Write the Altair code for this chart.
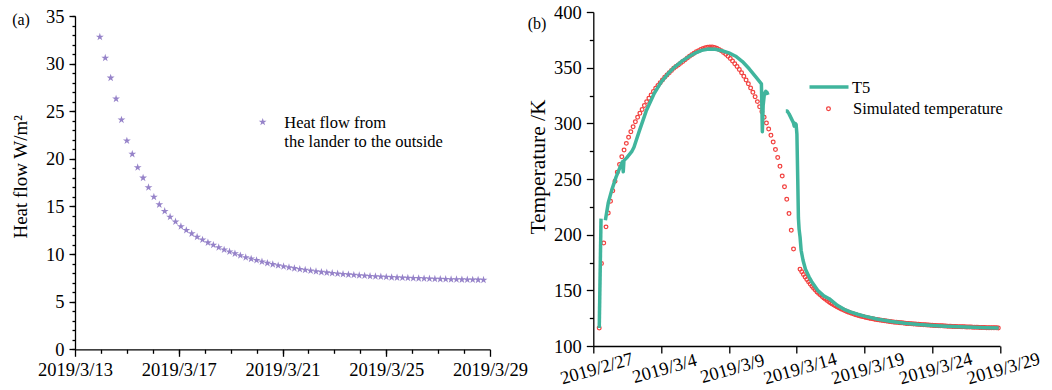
import altair as alt
import numpy as np
import pandas as pd

FONT = "Liberation Serif"
STAR_COLOR = "#9683c9"
T5_COLOR = "#40b59d"
SIM_COLOR = "#f2413f"
STAR_PATH = ("M0,-1L0.2245,-0.309L0.951,-0.309L0.363,0.118L0.588,0.809L0,0.382"
             "L-0.588,0.809L-0.363,0.118L-0.951,-0.309L-0.2245,-0.309Z")

# ---------------- panel (a) data ----------------
heat_flow_start = "2019-03-13 23:00"
heat_flow_step = "5h"
heat_flow = [
    32.8, 30.6, 28.5, 26.3, 24.1, 21.9, 20.5, 19.1, 18.0, 17.0,
    16.0, 15.2, 14.5, 13.9, 13.4, 12.9, 12.5, 12.15, 11.8, 11.5,
    11.2, 10.95, 10.7, 10.45, 10.25, 10.05, 9.85, 9.65, 9.5, 9.35,
    9.2, 9.05, 8.92, 8.8, 8.7, 8.6, 8.5, 8.41, 8.33, 8.25,
    8.18, 8.11, 8.05, 7.99, 7.94, 7.89, 7.84, 7.8, 7.76, 7.72,
    7.68, 7.65, 7.62, 7.59, 7.56, 7.53, 7.51, 7.49, 7.47, 7.45,
    7.43, 7.41, 7.39, 7.37, 7.36, 7.34, 7.33, 7.32, 7.31, 7.3,
    7.29, 7.28,
]
a_x_major_days = [13, 17, 21, 25, 29]          # March
a_x_minor_days = list(range(14, 29))
a_y_major = [0, 5, 10, 15, 20, 25, 30, 35]
a_y_minor = list(range(0, 36))

# ---------------- panel (b) data ----------------
sim_a_start = "2019-02-27 10:30"
sim_a_step = "4h"
sim_a = [
    116.2, 174.0, 192.5, 207.0, 219.5, 230.0, 239.5, 248.0, 256.0, 263.0,
    270.0, 276.0, 282.0, 287.5, 292.5, 297.0, 301.5, 305.5, 309.0, 312.5,
    316.0, 319.5, 322.5, 325.5, 328.5, 331.5, 334.0, 336.5, 339.0, 341.5,
    343.5, 345.5, 347.5, 349.5, 351.0, 352.5, 354.0, 355.5, 357.0, 358.7,
    360.2, 361.7, 363.0, 364.2, 365.3, 366.3, 367.2, 367.9, 368.4, 368.6,
    368.5, 368.1, 367.4, 366.4, 365.1, 363.6, 362.0, 360.2, 358.2, 356.0,
    353.6, 351.0, 348.3, 345.4, 342.3, 339.0, 335.5, 331.8, 327.9, 323.8,
    319.5, 315.0, 310.3, 305.4, 300.3, 295.0, 289.3, 283.2, 276.6, 269.4,
    261.5, 252.8, 243.0, 231.8, 219.0, 204.0, 187.2,
]
sim_b_start = "2019-03-14 06:00"
sim_b_step = "3h"
sim_b = [
    169.0, 166.6, 164.2, 161.9, 159.7, 157.6, 155.6, 153.7,
    151.9, 150.2, 148.6, 147.1, 145.7, 144.4, 143.1, 141.9,
    140.8, 139.7, 138.7, 137.7, 136.8, 135.9, 135.1, 134.3,
    133.5, 132.8, 132.1, 131.4, 130.8, 130.2, 129.6, 129.1,
    128.6, 128.1, 127.6, 127.2, 126.8, 126.4, 126.0, 125.6,
    125.3, 125.0, 124.7, 124.4, 124.1, 123.8, 123.6, 123.3,
    123.1, 122.9, 122.6, 122.4, 122.2, 122.0, 121.8, 121.6,
    121.4, 121.3, 121.1, 120.9, 120.8, 120.6, 120.5, 120.3,
    120.2, 120.1, 119.9, 119.8, 119.7, 119.6, 119.5, 119.3,
    119.2, 119.1, 119.0, 118.9, 118.8, 118.7, 118.6, 118.5,
    118.4, 118.3, 118.2, 118.2, 118.1, 118.0, 117.9, 117.8,
    117.8, 117.7, 117.6, 117.6, 117.5, 117.4, 117.4, 117.3,
    117.3, 117.2, 117.1, 117.1, 117.0, 117.0, 116.9, 116.9,
    116.8, 116.8, 116.7, 116.7, 116.6, 116.6, 116.5, 116.5,
    116.5, 116.4, 116.4, 116.3, 116.3, 116.2,
]
# T5 measured curve: days after 2019-02-27 00:00 and temperature, three pieces
t5_origin = "2019-02-27 00:00"
t5_seg1_days = [0.44, 0.57]
t5_seg1_temp = [116.2, 214.4]
t5_seg2_days = [0.89, 1.11, 1.36, 1.67, 2.02, 2.15, 2.21, 2.26, 2.46, 2.83,
                3.0, 3.39, 3.9, 4.5, 5.0, 5.5, 6.0, 6.5, 7.0, 7.5,
                8.0, 8.5, 9.0, 9.5, 10.0, 10.5, 11.0, 11.5, 12.0, 12.4,
                12.47, 12.53, 12.62, 12.72, 12.82, 12.88]
t5_seg2_temp = [213, 229, 240, 251.5, 262, 265.5, 256.5, 266.5, 269, 274.5,
                278.5, 293, 311, 327, 337, 344.5, 350.5, 355.5, 359.5, 363,
                365.5, 366.8, 366.5, 365.2, 363.3, 360.3, 355.5, 349, 341.5, 335.5,
                292.5, 316, 326.5, 328.7, 327.6, 325.5]
t5_seg3_days = [14.2, 14.3, 14.44, 14.62, 14.76, 14.82, 14.88, 14.96, 15.02, 15.08,
                15.13, 15.18, 15.25, 15.33, 15.47, 15.65, 15.92, 16.1, 16.55, 17.0,
                17.4, 18.0, 18.5, 19.0, 19.5, 20.0, 21.0, 22.0, 23.0, 24.0,
                25.0, 26.0, 27.0, 28.0, 29.0, 29.9]
t5_seg3_temp = [311, 311, 308.5, 304, 300.5, 297.5, 300, 299, 290, 250,
                215, 205, 198, 186, 177, 169, 162, 158, 150, 145,
                142.5, 136.5, 133, 130.5, 128.5, 126.8, 124, 122, 120.5, 119.3,
                118.5, 117.8, 117.3, 116.9, 116.5, 116.2]
b_x_ticks = [(2, 27), (3, 4), (3, 9), (3, 14), (3, 19), (3, 24), (3, 29)]
b_y_major = [100, 150, 200, 250, 300, 350, 400]
b_y_minor = [125, 175, 225, 275, 325, 375]

FMT = "%Y-%m-%dT%H:%M:%S"


def dt(m, d):
    return alt.DateTime(year=2019, month=m, date=d)


hf_df = pd.DataFrame({
    "t": pd.date_range(heat_flow_start, periods=len(heat_flow), freq=heat_flow_step).strftime(FMT),
    "v": heat_flow,
})
sim_df = pd.concat([
    pd.DataFrame({"t": pd.date_range(sim_a_start, periods=len(sim_a), freq=sim_a_step).strftime(FMT), "v": sim_a}),
    pd.DataFrame({"t": pd.date_range(sim_b_start, periods=len(sim_b), freq=sim_b_step).strftime(FMT), "v": sim_b}),
], ignore_index=True)
t5_parts = []
for seg, (ds, ts) in enumerate([(t5_seg1_days, t5_seg1_temp), (t5_seg2_days, t5_seg2_temp),
                                 (t5_seg3_days, t5_seg3_temp)]):
    times = pd.Timestamp(t5_origin) + pd.to_timedelta(np.array(ds), unit="D")
    t5_parts.append(pd.DataFrame({"t": times.strftime(FMT), "v": ts, "seg": seg}))
t5_df = pd.concat(t5_parts, ignore_index=True)
one = pd.DataFrame({"k": [0]})

LBL = 18.5

# ---------------- panel (a) ----------------
A_W, A_H = 415, 337.3
xa = alt.Scale(domain=[dt(3, 13), dt(3, 29)], nice=False)
ya = alt.Scale(domain=[0, 35], range=[A_H, 4], nice=False)

stars = alt.Chart(hf_df).mark_point(
    shape=STAR_PATH, filled=True, size=68, color=STAR_COLOR, opacity=1, strokeWidth=0
).encode(
    x=alt.X("t:T", scale=xa, axis=alt.Axis(
        values=[dt(3, d) for d in a_x_major_days], format="%Y/%-m/%-d", labelAngle=0,
        labelAlign="center", labelBaseline="top", labelPadding=4, tickSize=7,
        labelFlush=False, labelOverlap=False, title=None, orient="bottom")),
    y=alt.Y("v:Q", scale=ya, axis=alt.Axis(
        values=a_y_major, tickSize=6, labelPadding=5, labelFlush=False, labelOverlap=False,
        title="Heat flow W/m²", titleX=-55, titleY=164.3, titleAngle=270,
        titleAlign="center", titleBaseline="middle", orient="left")),
)
minor_a = alt.Chart(hf_df).mark_point(opacity=0).encode(
    x=alt.X("t:T", scale=xa, axis=alt.Axis(
        values=[dt(3, d) for d in a_x_minor_days], labels=False, tickSize=4,
        domain=False, title=None, orient="bottom")),
    y=alt.Y("v:Q", scale=ya, axis=alt.Axis(
        values=a_y_minor, labels=False, tickSize=3, domain=False, title=None, orient="left")),
)
frame = alt.Chart(one).mark_rect(opacity=0).encode(
    x=alt.value(-75), x2=alt.value(977), y=alt.value(-11.7), y2=alt.value(378.3))
tag_a = alt.Chart(one).mark_text(text="(a)", font=FONT, fontSize=16, align="center",
                                 baseline="middle", color="black").encode(
    x=alt.value(-54), y=alt.value(8.3))
leg_star = alt.Chart(one).mark_point(shape=STAR_PATH, filled=True, size=68, color=STAR_COLOR,
                                     opacity=1, strokeWidth=0).encode(
    x=alt.value(187.7), y=alt.value(110))
leg_a1 = alt.Chart(one).mark_text(text="Heat flow from", font=FONT, fontSize=16.5, align="left",
                                  baseline="middle", color="black").encode(
    x=alt.value(209.3), y=alt.value(111))
leg_a2 = alt.Chart(one).mark_text(text="the lander to the outside", font=FONT, fontSize=16.5,
                                  align="left", baseline="middle", color="black").encode(
    x=alt.value(209.3), y=alt.value(130))

left = alt.layer(frame, stars, minor_a, tag_a, leg_star, leg_a1, leg_a2).resolve_axis(
    x="independent", y="independent").properties(width=A_W, height=A_H)

# ---------------- panel (b) ----------------
B_W, B_H = 406.7, 334
xb = alt.Scale(domain=[dt(2, 27), dt(3, 29)], nice=False)
yb = alt.Scale(domain=[100, 400], nice=False)
xb_axis = alt.Axis(
    values=[dt(m, d) for m, d in b_x_ticks], format="%Y/%-m/%-d", labelAngle=344,
    labelAlign="center", labelBaseline="middle", labelPadding=15, labelOffset=3, tickSize=7,
    labelFlush=False, labelOverlap=False, title=None, orient="bottom")

sim = alt.Chart(sim_df).mark_point(
    shape="circle", filled=False, size=14, strokeWidth=1.25, color=SIM_COLOR, opacity=1
).encode(
    x=alt.X("t:T", scale=xb, axis=xb_axis),
    y=alt.Y("v:Q", scale=yb, axis=alt.Axis(
        values=b_y_major, tickSize=7, labelPadding=5, labelFlush=False, labelOverlap=False,
        title="Temperature /K", titleFontSize=21.5, titleX=-55, titleY=154.5, titleAngle=270,
        titleAlign="center", titleBaseline="middle", orient="left")),
)
t5 = alt.Chart(t5_df).mark_line(strokeWidth=3.5, color=T5_COLOR, strokeJoin="round").encode(
    x=alt.X("t:T", scale=xb, axis=xb_axis),
    y=alt.Y("v:Q", scale=yb, axis=None),
    detail="seg:N",
)
minor_b = alt.Chart(sim_df).mark_point(opacity=0).encode(
    x=alt.X("t:T", scale=xb, axis=xb_axis),
    y=alt.Y("v:Q", scale=yb, axis=alt.Axis(
        values=b_y_minor, labels=False, tickSize=4, domain=False, title=None, orient="left")),
)
tag_b = alt.Chart(one).mark_text(text="(b)", font=FONT, fontSize=16, align="center",
                                 baseline="middle", color="black").encode(
    x=alt.value(-56.3), y=alt.value(12.3))
leg_line = alt.Chart(one).mark_rule(strokeWidth=3.5, color=T5_COLOR).encode(
    x=alt.value(216.2), x2=alt.value(255.2), y=alt.value(75.1))
leg_t5 = alt.Chart(one).mark_text(text="T5", font=FONT, fontSize=16.5, align="left",
                                  baseline="middle", color="black").encode(
    x=alt.value(258.7), y=alt.value(75.8))
leg_circ = alt.Chart(one).mark_point(shape="circle", filled=False, size=14, strokeWidth=1.25,
                                     color=SIM_COLOR, opacity=1).encode(
    x=alt.value(235.2), y=alt.value(96.8))
leg_sim = alt.Chart(one).mark_text(text="Simulated temperature", font=FONT, fontSize=16.5,
                                   align="left", baseline="middle", color="black").encode(
    x=alt.value(259.7), y=alt.value(96.8))

right = alt.layer(sim, t5, minor_b, tag_b, leg_line, leg_t5, leg_circ, leg_sim).resolve_axis(
    y="independent").properties(width=B_W, height=B_H)

chart = alt.hconcat(left, right, spacing=103.3, bounds="flush", padding=0).configure_view(
    stroke=None
).configure_axis(
    domainColor="black", tickColor="black", domainWidth=1.3, tickWidth=1.3,
    labelFont=FONT, labelFontSize=LBL, labelColor="black",
    titleFont=FONT, titleFontSize=19, titleFontWeight="normal", titleColor="black",
    grid=False,
).properties(background="white")

chart.save("out.html", embed_options={"renderer": "svg", "actions": False})
